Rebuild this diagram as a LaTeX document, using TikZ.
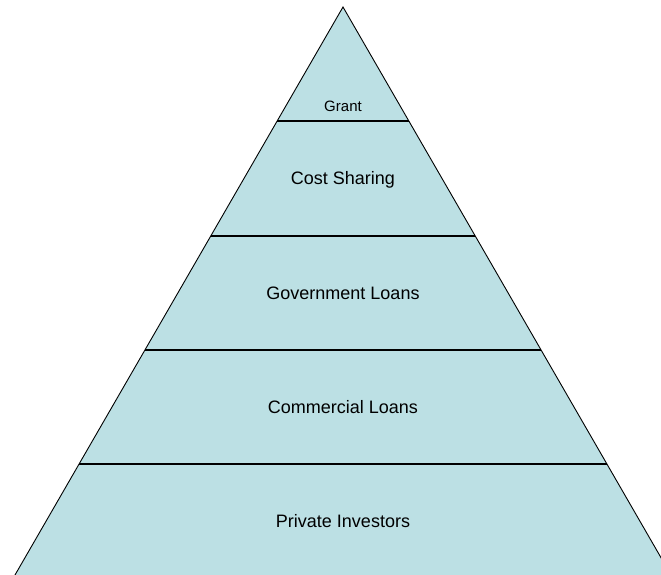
\documentclass[tikz,border=0pt]{standalone}
\usepackage{fontspec}
\setmainfont{Liberation Sans}
\definecolor{pyrfill}{RGB}{188,224,228}
\begin{document}
\begin{tikzpicture}[x=1pt,y=-1pt,
  lbl/.style={anchor=base,inner sep=0pt,font=\fontsize{18}{20}\selectfont},
  small/.style={anchor=base,inner sep=0pt,font=\fontsize{15}{17}\selectfont},
  sep/.style={draw=black,line width=1.1pt}]
\useasboundingbox (0,0) rectangle (661,575);
\clip (0,0) rectangle (661,575);
\coordinate (apex) at (343,7);
\coordinate (bl) at (12.1,580);
\coordinate (br) at (673.9,580);
\filldraw[fill=pyrfill,draw=black,line width=0.9pt] (bl) -- (apex) -- (br) -- cycle;
% separator lines (x at each level computed from the slope 328/568)
\coordinate (l1) at (277.2,121); \coordinate (r1) at (408.8,121);
\coordinate (l2) at (210.8,236); \coordinate (r2) at (475.2,236);
\coordinate (l3) at (145.0,350); \coordinate (r3) at (541.0,350);
\coordinate (l4) at (79.1,464);  \coordinate (r4) at (606.9,464);
\draw[sep] (l1) -- (r1);
\draw[sep] (l2) -- (r2);
\draw[sep] (l3) -- (r3);
\draw[sep] (l4) -- (r4);
\node[small] (grant) at (343,112) {Grant};
\node[lbl] (cost) at (343,184.5) {Cost Sharing};
\node[lbl] (gov) at (343,299) {Government Loans};
\node[lbl] (com) at (343,413) {Commercial Loans};
\node[lbl] (priv) at (343,527) {Private Investors};
\end{tikzpicture}
\end{document}
